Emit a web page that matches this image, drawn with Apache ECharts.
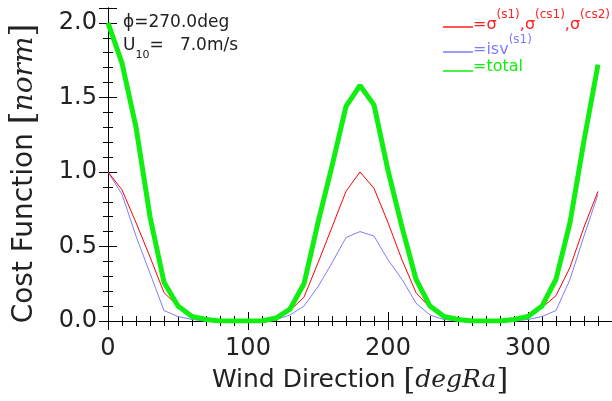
<!DOCTYPE html>
<html>
<head>
<meta charset="utf-8">
<script src="https://cdn.jsdelivr.net/npm/echarts@6/dist/echarts.min.js"></script>
<style>
  html, body { margin: 0; padding: 0; background: #fff; }
  #container { width: 612px; height: 401px; }
</style>
</head>
<body>
<div id="container"></div>
<script>
var direction = [0, 10, 20, 30, 40, 50, 60, 70, 80, 90, 100, 110, 120, 130, 140, 150, 160, 170,
                 180, 190, 200, 210, 220, 230, 240, 250, 260, 270, 280, 290, 300, 310, 320, 330, 340, 350];
var sigmaCost = [1.00, 0.88, 0.66, 0.43, 0.19, 0.10, 0.04, 0.01, 0, 0, 0, 0, 0.02, 0.07, 0.16, 0.39, 0.63, 0.87,
                 1.00, 0.89, 0.66, 0.41, 0.19, 0.09, 0.03, 0.01, 0, 0, 0, 0.01, 0.03, 0.09, 0.17, 0.36, 0.63, 0.87];
var isvCost = [1.00, 0.85, 0.57, 0.32, 0.07, 0.03, 0.01, 0, 0, 0, 0, 0, 0.01, 0.04, 0.10, 0.23, 0.39, 0.56,
               0.60, 0.57, 0.41, 0.28, 0.12, 0.04, 0.01, 0, 0, 0, 0, 0, 0.01, 0.03, 0.07, 0.28, 0.57, 0.85];
var totalCost = [2.00, 1.73, 1.30, 0.70, 0.26, 0.10, 0.03, 0.01, 0, 0, 0, 0, 0.02, 0.08, 0.25, 0.66, 1.04, 1.44,
                 1.58, 1.45, 1.01, 0.63, 0.28, 0.10, 0.03, 0.01, 0, 0, 0, 0.01, 0.03, 0.10, 0.28, 0.66, 1.21, 1.72];

function pairs(ys) {
    return direction.map(function (d, i) { return [d, ys[i]]; });
}

var dom = document.getElementById('container');
var myChart = echarts.init(dom, null, { renderer: 'canvas' });

var font = 'DejaVu Sans';
var textColor = '#222';

// IDL style frame: ticks point into the plot on all four sides
function frame(minorSplit) {
    return {
        axisLine: { show: true, lineStyle: { color: '#000', width: 1 } },
        axisTick: { show: true, inside: false, length: -9, lineStyle: { color: '#000' } },
        minorTick: { show: true, splitNumber: minorSplit, length: -5, lineStyle: { color: '#000' } },
        splitLine: { show: false },
        minorSplitLine: { show: false }
    };
}

function nameRich(size) {
    return {
        n: { fontFamily: font, fontSize: size, color: textColor },
        i: { fontFamily: 'DejaVu Serif', fontStyle: 'italic', fontSize: size, color: textColor },
        b: { fontFamily: 'DejaVu Serif', fontSize: size + 5, color: textColor }
    };
}

var option = {
    animation: false,
    backgroundColor: '#fff',
    grid: { left: 106, right: -5, top: 8, bottom: 80 },
    xAxis: [
        Object.assign({
            type: 'value', min: 0, max: 360, interval: 100, position: 'bottom',
            axisLabel: { show: true, showMaxLabel: false, margin: 16, fontFamily: font, fontSize: 24, color: textColor },
            name: '{n|Wind Direction }{b|[}{i|degRa}{b|]}',
            nameLocation: 'middle', nameGap: 43,
            nameTextStyle: { rich: nameRich(25) }
        }, frame(10)),
        Object.assign({
            type: 'value', min: 0, max: 360, interval: 100, position: 'top',
            axisLabel: { show: false }
        }, frame(10))
    ],
    yAxis: [
        Object.assign({
            type: 'value', min: 0, max: 2.1, interval: 0.5, position: 'left',
            axisLabel: {
                showMaxLabel: false, margin: 11, fontFamily: font, fontSize: 24, color: textColor,
                formatter: function (v) { return v.toFixed(1); }
            },
            name: '{n|Cost Function }{b|[}{i|norm}{b|]}',
            nameLocation: 'middle', nameGap: 67,
            nameTextStyle: { rich: nameRich(28), padding: [0, 18, 0, 0] }
        }, frame(5)),
        Object.assign({
            type: 'value', min: 0, max: 2.1, interval: 0.5, position: 'right',
            axisLabel: { show: false }
        }, frame(5))
    ],
    series: [
        {
            type: 'line', data: pairs(sigmaCost), showSymbol: false, smooth: false,
            lineStyle: { color: '#ff0000', width: 1 }, z: 3
        },
        {
            type: 'line', data: pairs(isvCost), showSymbol: false, smooth: false,
            lineStyle: { color: '#7c7cff', width: 1 }, z: 2
        },
        {
            type: 'line', data: pairs(totalCost), showSymbol: false, smooth: false,
            lineStyle: { color: '#11ee11', width: 5 }, z: 4
        }
    ],
    graphic: [
        {
            type: 'text', left: 123, top: 14,
            style: { text: 'ϕ=270.0deg', font: '17px "DejaVu Sans"', fill: textColor }
        },
        {
            type: 'text', left: 123, top: 37,
            style: {
                text: '{t|U}{s|10}{t|=   7.0m/s}',
                rich: {
                    t: { fontFamily: font, fontSize: 17, lineHeight: 20, fill: textColor, verticalAlign: 'top' },
                    s: { fontFamily: font, fontSize: 11, fill: textColor, verticalAlign: 'bottom', padding: [13, 0, 0, 0] }
                }
            }
        },
        { type: 'line', shape: { x1: 443, y1: 27, x2: 473, y2: 27 }, style: { stroke: '#ff2020', lineWidth: 1.5 } },
        {
            type: 'text', left: 473, top: 9,
            style: {
                text: '{t|=σ}{s|(s1)}{t|,σ}{s|(cs1)}{t|,σ}{s|(cs2)}',
                rich: {
                    t: { fontFamily: font, fontSize: 16, lineHeight: 24, fill: '#ff2020', verticalAlign: 'bottom' },
                    s: { fontFamily: font, fontSize: 12, fill: '#ff2020', verticalAlign: 'top' }
                }
            }
        },
        { type: 'line', shape: { x1: 443, y1: 52, x2: 473, y2: 52 }, style: { stroke: '#7c7cff', lineWidth: 1.5 } },
        {
            type: 'text', left: 473, top: 34,
            style: {
                text: '{t|=isv}{s|(s1)}',
                rich: {
                    t: { fontFamily: font, fontSize: 16, lineHeight: 24, fill: '#7c7cff', verticalAlign: 'bottom' },
                    s: { fontFamily: font, fontSize: 12, fill: '#7c7cff', verticalAlign: 'top' }
                }
            }
        },
        { type: 'line', shape: { x1: 443, y1: 71, x2: 473, y2: 71 }, style: { stroke: '#11ee11', lineWidth: 1.5 } },
        {
            type: 'text', left: 473, top: 59,
            style: { text: '=total', font: '16px "DejaVu Sans"', fill: '#11ee11' }
        }
    ]
};

myChart.setOption(option);
window.addEventListener('resize', myChart.resize);
</script>
</body>
</html>
